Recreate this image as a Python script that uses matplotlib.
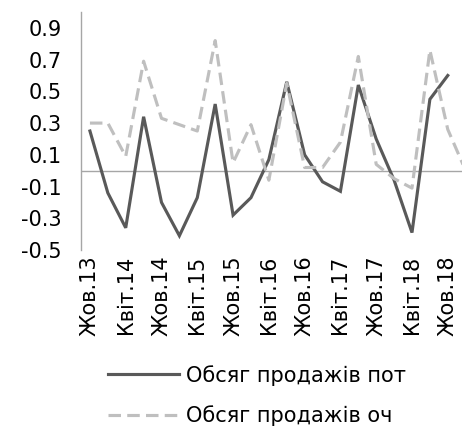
import matplotlib
matplotlib.use('Agg')
from matplotlib import pyplot as plt

# Quarterly values, Oct 2013 .. Oct 2018 (dashed series has one more point past the edge)
sales_pot = [0.25, -0.14, -0.36, 0.34, -0.20, -0.41, -0.17, 0.42, -0.28, -0.17, 0.07,
             0.56, 0.10, -0.07, -0.13, 0.54, 0.20, -0.06, -0.39, 0.45, 0.60]
sales_och = [0.30, 0.30, 0.09, 0.69, 0.33, 0.29, 0.25, 0.82, 0.05, 0.29, -0.06,
             0.55, 0.02, 0.02, 0.18, 0.72, 0.04, -0.05, -0.11, 0.76, 0.26, 0.00]
tick_labels = ['Жов.13', 'Квіт.14', 'Жов.14', 'Квіт.15', 'Жов.15', 'Квіт.16',
               'Жов.16', 'Квіт.17', 'Жов.17', 'Квіт.18', 'Жов.18']
series_names = ['Обсяг продажів пот', 'Обсяг продажів оч']

FS = 15

plt.rcParams['font.family'] = ['DejaVu Sans']

fig = plt.figure(figsize=(4.62, 4.29), dpi=100)
# plot area runs past the right edge of the picture, like the cropped original
ax = fig.add_axes([0.1753, 0.4172, 0.852, 0.5548])

ax.plot(range(len(sales_pot)), sales_pot, color='#595959', lw=2.25,
        label=series_names[0], solid_joinstyle='miter')
ax.plot(range(len(sales_och)), sales_och, color='#BFBFBF', lw=2.25,
        linestyle=(0, (4, 2)), label=series_names[1])

ax.axhline(0, color='#A6A6A6', lw=1, zorder=0)

ax.set_xlim(-0.5, 21.5)
ax.set_ylim(-0.5, 1.0)
ax.set_yticks([-0.5, -0.3, -0.1, 0.1, 0.3, 0.5, 0.7, 0.9])
ax.set_yticklabels(['-0.5', '-0.3', '-0.1', '0.1', '0.3', '0.5', '0.7', '0.9'])
ax.set_xticks(range(0, 21, 2))
ax.set_xticklabels(tick_labels, rotation=90)
ax.tick_params(length=0, labelsize=FS, colors='black')
ax.tick_params(axis='y', pad=14)
ax.tick_params(axis='x', pad=4)

for side in ['top', 'right', 'bottom']:
    ax.spines[side].set_visible(False)
ax.spines['left'].set_color('#A6A6A6')
ax.spines['left'].set_linewidth(1)

fig.legend(loc='center', bbox_to_anchor=(0.557, 0.078), frameon=False,
           fontsize=FS, handlelength=3.4, handletextpad=0.35, labelspacing=0.95)

fig.savefig('out.png', dpi=100)
